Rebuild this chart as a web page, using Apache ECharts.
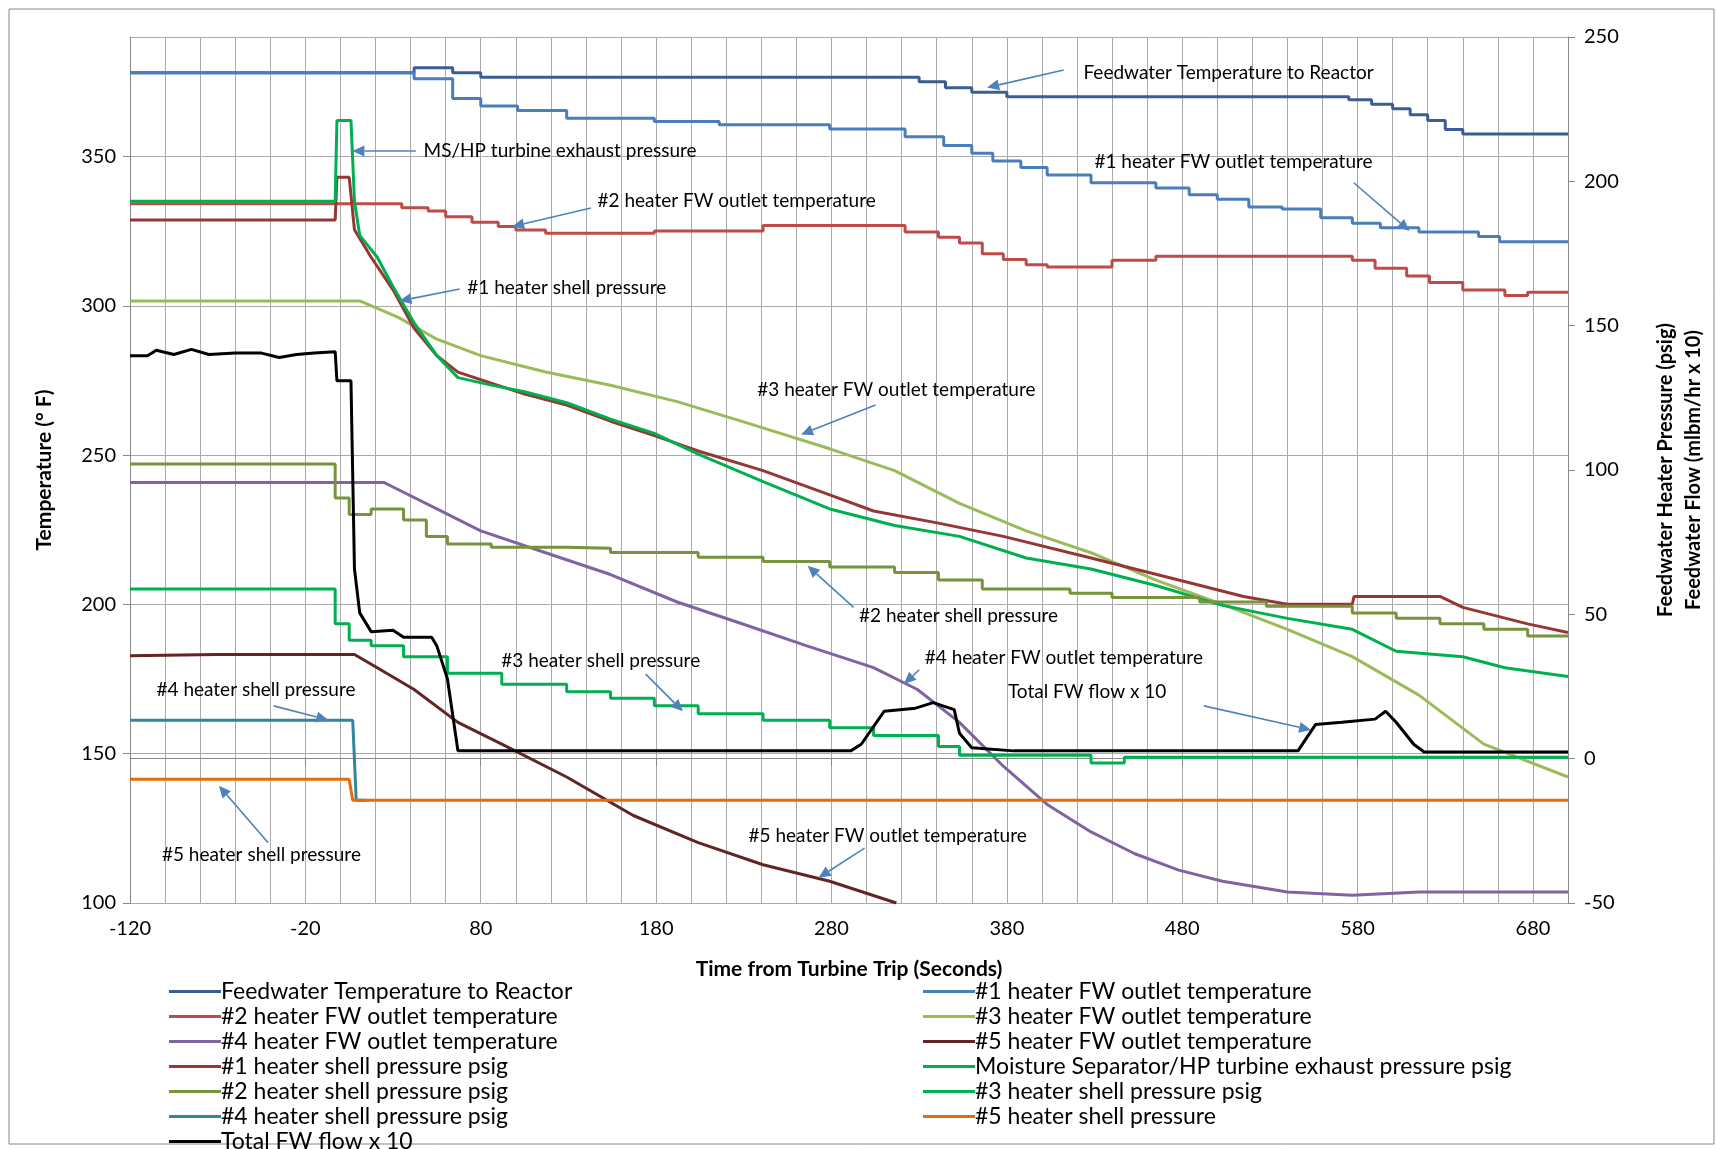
<!DOCTYPE html>
<html><head><meta charset="utf-8">
<script src="https://cdn.jsdelivr.net/npm/echarts@6/dist/echarts.min.js"></script>
<style>html,body{margin:0;padding:0;background:#fff}#c{width:1716px;height:1149px}</style>
</head><body><div id="c"></div>
<script>
const SHIFT = 120;
const xTickLabels = [-120,-20,80,180,280,380,480,580,680];
const fwReactor=[[-120,378],[42,379.7],[64,378],[80,376.5],[330,375],[345,373],[360,371.5],[380,370],[575,369],[588,367.5],[600,366],[610,364],[620,362],[630,359],[640,357.5],[700,357.5]];
const h1FW=[[-120,378],[42,376],[64,369.4],[80,366.9],[101,365.4],[129,362.8],[179,361.7],[216,360.6],[279,359.2],[322,356.6],[344,353.7],[360,351.1],[372,348.5],[388,346.3],[403,343.8],[428,341.2],[465,339.4],[484,337.2],[500,335.7],[518,333.1],[537,332.4],[559,329.5],[577,327.6],[593,326.1],[615,324.7],[649,323.2],[661,321.4],[700,321.4]];
const h2FW=[[-120,334.2],[35,332.8],[50,331.7],[60,329.8],[75,328],[90,326.5],[100,325.4],[117,324.3],[179,325],[241,326.9],[322,324.7],[341,322.9],[353,321],[366,317.4],[378,315.5],[391,313.7],[403,313],[440,315.2],[465,316.6],[577,315.2],[590,312.6],[608,310],[621,307.8],[640,305.3],[664,303.4],[677,304.5],[700,304.5]];
const h3FW=[[-120,301.6],[11,301.6],[33,296.1],[55,288.8],[80,283.3],[117,277.8],[154,273.4],[192,267.9],[229,261.3],[279,252.1],[316,244.8],[353,233.8],[391,224.6],[428,217.3],[465,208.1],[503,200],[540,191.6],[577,182.5],[615,169.6],[652,153.2],[700,142.2]];
const h4FW=[[-120,240.8],[25,240.8],[30,239.3],[55,232],[80,224.6],[117,217.3],[154,210],[192,200.8],[229,193.5],[266,186.1],[304,178.8],[329,171.5],[353,160.5],[378,145.8],[403,133],[428,123.8],[453,116.5],[478,111],[503,107.3],[540,103.7],[577,102.6],[615,103.7],[700,103.7]];
const h5FW=[[-120,182.8],[-70,183.2],[8,183.2],[21,178.8],[42,171.5],[67,160.5],[92,153.2],[129,142.2],[167,129.3],[204,120.2],[241,112.8],[279,107.3],[317,100]];
const h1Shell=[[-120,186.6],[-3,186.6],[-2,201.4],[5,201.4],[8,183.2],[17.5,173.7],[30,162.4],[42,149.1],[55,139.6],[67,133.9],[86,130.1],[105,126.3],[129,122.5],[154,116.9],[179,111.9],[204,106.6],[241,99.8],[279,91.4],[304,85.8],[341,81.6],[378,77],[428,69.5],[478,61.9],[515,56.2],[540,53.5],[577,53.5],[578,56.2],[627,56.2],[640,52.4],[677,46.7],[700,43.7]];
const msHP=[[-120,193.1],[-3,193.1],[-2,221.1],[6,221.1],[8,193.1],[11,181.3],[21,173.7],[30,163.5],[42,151],[55,139.6],[67,132],[86,129.4],[105,127.1],[129,123.3],[154,117.6],[179,112.7],[204,105.5],[241,96],[279,86.5],[316,80.8],[353,77],[391,69.5],[428,65.7],[465,60],[503,53.1],[540,48.6],[577,44.8],[602,37.2],[640,35.3],[664,31.5],[700,28.5]];
const h2Shell=[[-120,102.1],[-3,90.3],[5,84.6],[17.5,86.5],[36,82.7],[49,77],[61,74.4],[86,73.2],[129,72.9],[154,71.4],[204,69.8],[241,68.3],[279,66.4],[316,64.5],[341,61.9],[366,58.8],[416,57.3],[440,55.8],[490,54.3],[528,52.8],[577,50.5],[602,48.6],[627,46.7],[652,44.8],[677,42.5],[700,42.5]];
const h3Shell=[[-120,58.8],[-3,46.7],[5,41],[17.5,39.1],[36,35.3],[61,29.6],[92,25.8],[129,23.2],[154,20.9],[179,18.3],[204,15.6],[241,13.3],[279,10.7],[304,8],[341,4.2],[353,1.2],[428,-1.5],[447,0.5],[700,0.5]];
const h4Shell=[[-120,13.3],[7,13.3],[9,-14.4],[15,-14.4]];
const h5Shell=[[-120,-7.1],[5,-7.1],[7,-14.4],[700,-14.4]];
const flow=[[-120,139.6],[-110,139.6],[-105,141.5],[-95,140],[-85,141.8],[-75,140],[-60,140.5],[-45,140.5],[-35,139],[-25,140],[-15,140.5],[-3,141],[-2,130.9],[6,130.9],[8,65.7],[11,50.5],[17.5,44],[30,44.5],[36,42.1],[52,42.1],[55,39],[61,27.7],[67,2.7],[291,2.7],[297,5],[310,16.4],[328,17.5],[338,19.4],[350,17],[353,8.8],[360,3.8],[384,2.7],[546,2.7],[556,11.8],[571,12.6],[590,13.7],[596,16.4],[602,12.6],[612,5],[618,2.3],[700,2.3]];

const F='Lato, "Liberation Sans", sans-serif';
const K=1716/1568;
const sh=a=>a.map(p=>[p[0]+SHIFT,p[1]]);
function S(name,data,color,axis,step){return {name,type:'line',yAxisIndex:axis,data:sh(data),step:step?'end':false,showSymbol:false,symbol:'none',lineStyle:{width:3,color},itemStyle:{color},animation:false,z:3};}
const series=[
 S('Feedwater Temperature to Reactor',fwReactor,'#3A5D96',0,true),
 S('#1 heater FW outlet temperature',h1FW,'#4A7EBB',0,true),
 S('#2 heater FW outlet temperature',h2FW,'#BE4B48',0,true),
 S('#3 heater FW outlet temperature',h3FW,'#9BBB59',0,false),
 S('#4 heater FW outlet temperature',h4FW,'#8064A2',0,false),
 S('#5 heater FW outlet temperature',h5FW,'#632523',0,false),
 S('#1 heater shell pressure psig',h1Shell,'#953735',1,false),
 S('Moisture Separator/HP turbine exhaust pressure psig',msHP,'#00B050',1,false),
 S('#2 heater shell pressure psig',h2Shell,'#77933C',1,true),
 S('#3 heater shell pressure psig',h3Shell,'#00B050',1,true),
 S('#4 heater shell pressure psig',h4Shell,'#31859C',1,false),
 S('#5 heater shell pressure',h5Shell,'#E46C0A',1,false),
 S('Total FW flow x 10',flow,'#000000',1,false)
];
const names=series.map(s=>s.name);
const leftNames=names.filter((n,i)=>i%2===0), rightNames=names.filter((n,i)=>i%2===1);
const legBase={orient:'vertical',icon:'rect',itemWidth:52,itemHeight:3,itemGap:2,height:200,textStyle:{fontFamily:F,fontSize:23,lineHeight:23,color:'#000',padding:[0,0,0,-5]},selectedMode:false};

const annots=[
 ['Feedwater Temperature to Reactor',990,67,972,64,902,80],
 ['MS/HP turbine exhaust pressure',387,138,380,138,322,138],
 ['#1 heater FW outlet temperature',1000,148,1237,167,1288,211],
 ['#2 heater FW outlet temperature',546,184,540,190,468,207],
 ['#1 heater shell pressure',427,263,420,264,365,275],
 ['#3 heater FW outlet temperature',692,356,800,370,732,397],
 ['#2 heater shell pressure',785,563,780,555,738,517],
 ['#3 heater shell pressure',458,604,590,616,624,650],
 ['#4 heater FW outlet temperature',845,601,840,612,826,625],
 ['#4 heater shell pressure',143,630,250,645,300,658],
 ['Total FW flow x 10',921,632,1100,645,1198,667],
 ['#5 heater shell pressure',148,781,245,770,200,718],
 ['#5 heater FW outlet temperature',684,764,790,775,748,802]
];
const graphic=[{type:'rect',shape:{x:9,y:9,width:1705,height:1135},style:{fill:'none',stroke:'#888',lineWidth:1},z:0}];
const AC='#4F81BD';
annots.forEach(a=>{
 const s=a.slice(1).map(v=>v*K);
 graphic.push({type:'text',x:s[0],y:s[1],style:{text:a[0],font:'19px '+F,fill:'#000',textVerticalAlign:'middle'},z:10});
 const [x1,y1,x2,y2]=[s[2],s[3],s[4],s[5]];
 const ang=Math.atan2(y2-y1,x2-x1), L=12, W=5.5;
 const bx=x2-L*Math.cos(ang), by=y2-L*Math.sin(ang);
 graphic.push({type:'line',shape:{x1,y1,x2:bx,y2:by},style:{stroke:AC,lineWidth:1.6},z:10});
 graphic.push({type:'polygon',shape:{points:[[x2,y2],[bx+W*Math.sin(ang),by-W*Math.cos(ang)],[bx-W*Math.sin(ang),by+W*Math.cos(ang)]]},style:{fill:AC},z:10});
});

const chart=echarts.init(document.getElementById('c'));
chart.setOption({
 backgroundColor:'#fff',animation:false,
 grid:{left:130,right:143,top:37,bottom:246,containLabel:false},
 xAxis:{type:'value',min:0,max:820,interval:100,
  name:'Time from Turbine Trip (Seconds)',nameLocation:'middle',nameGap:56,nameTextStyle:{fontFamily:F,fontSize:21,fontWeight:'bold',color:'#000'},
  axisLine:{show:true,lineStyle:{color:'#888'}},axisTick:{show:true,length:7,lineStyle:{color:'#888'}},
  axisLabel:{fontFamily:F,fontSize:20,color:'#000',margin:16,formatter:v=>xTickLabels.indexOf(v-SHIFT)>=0?String(v-SHIFT):''},
  splitLine:{show:true,lineStyle:{color:'#aaa',width:1}},
  minorTick:{show:false,splitNumber:5},minorSplitLine:{show:true,lineStyle:{color:'#aaa',width:1}}},
 yAxis:[
  {type:'value',min:100,max:390,interval:50,name:'Temperature (° F)',nameLocation:'middle',nameGap:75,nameRotate:90,
   nameTextStyle:{fontFamily:F,fontSize:21,fontWeight:'bold',color:'#000'},
   axisLine:{show:true,lineStyle:{color:'#888'}},axisTick:{show:true,length:7,lineStyle:{color:'#888'}},
   axisLabel:{fontFamily:F,fontSize:20,color:'#000',margin:14,showMaxLabel:false,formatter:v=>v>350?'':v},
   splitLine:{show:true,lineStyle:{color:'#aaa'}}},
  {type:'value',min:-50,max:250,interval:50,position:'right',name:'Feedwater Heater Pressure (psig)\nFeedwater Flow (mlbm/hr x 10)',nameLocation:'middle',nameGap:84,nameRotate:90,
   nameTextStyle:{fontFamily:F,fontSize:20,fontWeight:'bold',color:'#000',lineHeight:28},
   axisLine:{show:true,lineStyle:{color:'#888'}},axisTick:{show:true,length:7,lineStyle:{color:'#888'}},
   axisLabel:{fontFamily:F,fontSize:20,color:'#000',margin:16},splitLine:{show:false}}
 ],
 legend:[Object.assign({},legBase,{left:164,top:975,data:leftNames}),Object.assign({},legBase,{left:918,top:975,data:rightNames})],
 series, graphic
});
</script></body></html>
